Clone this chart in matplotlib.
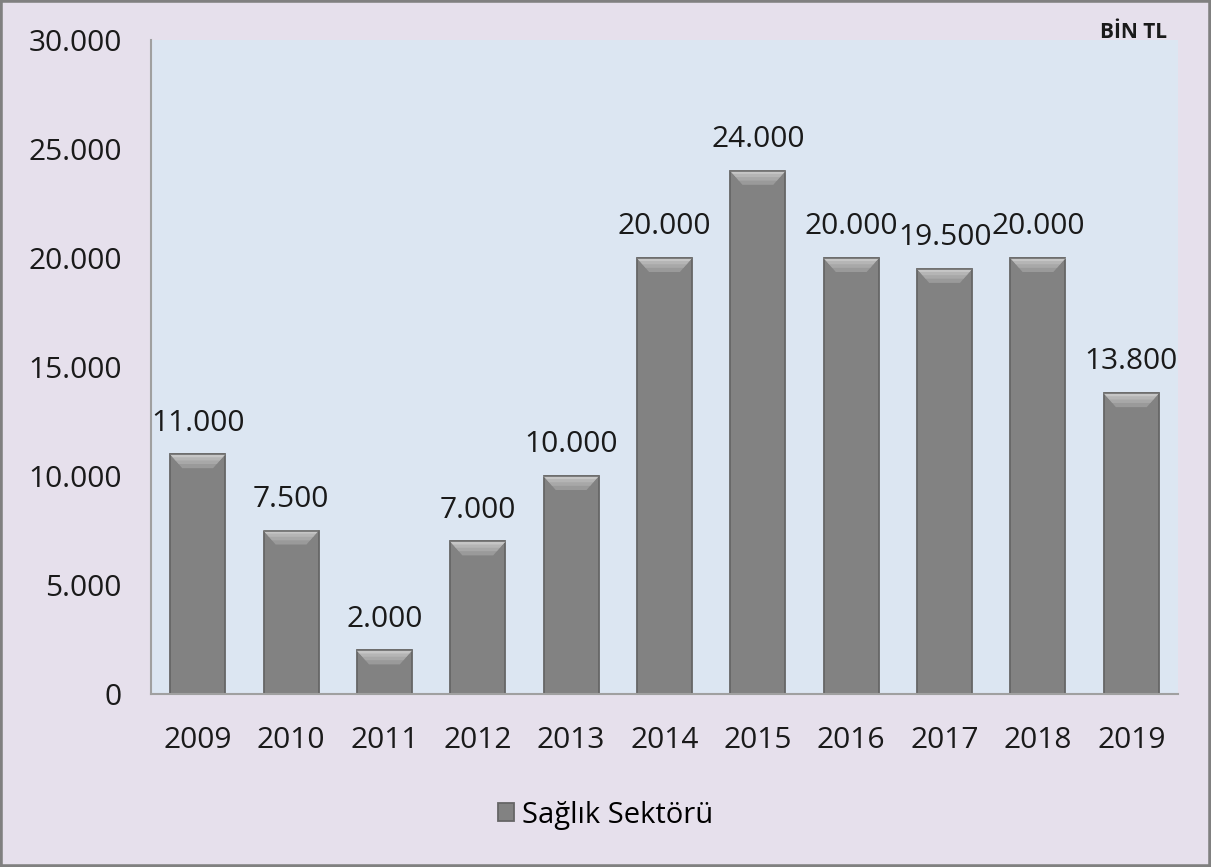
import matplotlib
matplotlib.use("Agg")
import matplotlib.pyplot as plt
from matplotlib.patches import Rectangle, Polygon
from matplotlib.ticker import FuncFormatter

years = ["2009", "2010", "2011", "2012", "2013", "2014", "2015", "2016", "2017", "2018", "2019"]
values = [11000, 7500, 2000, 7000, 10000, 20000, 24000, 20000, 19500, 20000, 13800]
series_name = "Sağlık Sektörü"
unit_label = "BİN TL"

plt.rcParams['font.family'] = ['Open Sans', 'DejaVu Sans']
FS = 21.5

fig = plt.figure(figsize=(12.11, 8.67), dpi=100)
fig.patch.set_facecolor('#E6E0EC')
ax = fig.add_axes([151/1211, 1 - 694/867, (1178-151)/1211, (694-40)/867])
ax.set_facecolor('#DCE6F2')

x = list(range(len(years)))
width = 0.59
bars = ax.bar(x, values, width=width, color='#828282', edgecolor='#666666',
              linewidth=1.3, label=series_name, zorder=2)

# bevel highlight on top of each bar
ymax = 30000
bev_h = ymax * 14 / 654
bev_w = width * 0.22
for b in bars:
    x0 = b.get_x(); w = b.get_width(); h = b.get_height()
    steps = [(1.0, '#9A9A9A'), (0.7, '#A8A8A8'), (0.45, '#B5B5B5'), (0.22, '#C6C6C6')]
    for frac, col in steps:
        poly = Polygon([(x0, h), (x0 + w, h), (x0 + w - bev_w * frac, h - bev_h * frac),
                        (x0 + bev_w * frac, h - bev_h * frac)],
                       closed=True, facecolor=col, edgecolor='none', zorder=3)
        ax.add_patch(poly)
    ax.add_patch(Rectangle((x0, h), w, 0, fill=False, edgecolor='#6E6E6E', linewidth=1.2, zorder=4))

fmt = lambda v: f"{int(v):,}".replace(",", ".")
ax.bar_label(bars, labels=[fmt(v) for v in values], padding=12, fontsize=FS, color='#1a1a1a')

ax.set_ylim(0, ymax)
ax.set_xlim(-0.5, len(years) - 0.5)
ax.set_yticks(range(0, 30001, 5000))
ax.yaxis.set_major_formatter(FuncFormatter(lambda v, p: fmt(v)))
ax.set_xticks(x)
ax.set_xticklabels(years)
ax.tick_params(axis='both', length=0, labelsize=FS, colors='#1a1a1a')
ax.tick_params(axis='y', pad=21)
ax.tick_params(axis='x', pad=23)

for s in ['top', 'right']:
    ax.spines[s].set_visible(False)
for s in ['left', 'bottom']:
    ax.spines[s].set_color('#A0A0A0')
    ax.spines[s].set_linewidth(1.5)

fig.legend(handles=[bars], labels=[series_name], loc='center', bbox_to_anchor=(0.5, 1 - 815/867),
           frameon=False, fontsize=21, handlelength=0.55, handleheight=0.55, handletextpad=0.25)

fig.text(1134/1211, 1 - 33/867, unit_label, ha='center', va='center', fontsize=15,
         fontweight='bold', color='#1a1a1a')

fig.add_artist(Rectangle((0, 0), 1, 1, transform=fig.transFigure, fill=False,
                         edgecolor='#808080', linewidth=4))

fig.savefig('out.png', dpi=100, facecolor=fig.get_facecolor())
